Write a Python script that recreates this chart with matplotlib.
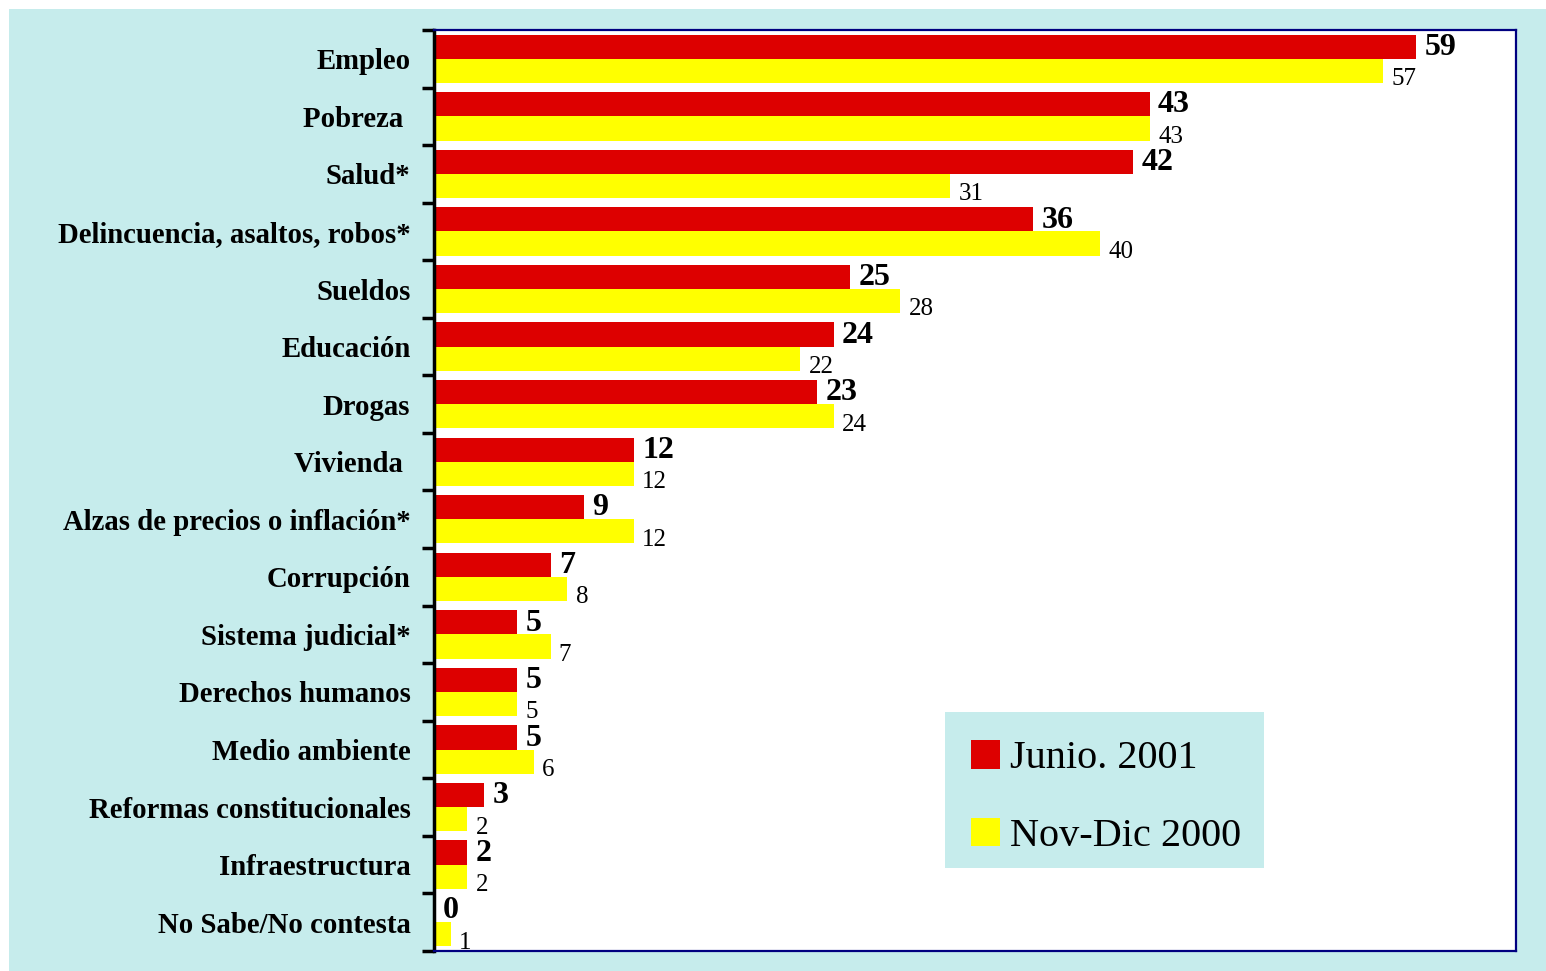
import numpy as np
import matplotlib
matplotlib.use('Agg')
import matplotlib.pyplot as plt
from matplotlib.patches import Rectangle

categories = ['Empleo', 'Pobreza ', 'Salud*', 'Delincuencia, asaltos, robos*', 'Sueldos',
              'Educación', 'Drogas', 'Vivienda ', 'Alzas de precios o inflación*', 'Corrupción',
              'Sistema judicial*', 'Derechos humanos', 'Medio ambiente',
              'Reformas constitucionales', 'Infraestructura', 'No Sabe/No contesta']
junio_2001 = [59, 43, 42, 36, 25, 24, 23, 12, 9, 7, 5, 5, 5, 3, 2, 0]
novdic_2000 = [57, 43, 31, 40, 28, 22, 24, 12, 12, 8, 7, 5, 6, 2, 2, 1]

red = '#DD0000'
yellow = '#FFFF00'
cyan = '#C6ECEC'
navy = '#000080'

matplotlib.rc('font', family='Liberation Serif')

W, H = 1546, 971
fig = plt.figure(figsize=(W / 100, H / 100), dpi=100, facecolor='white')
fig.patches.append(Rectangle((9 / W, 0), 1, 1 - 9 / H, transform=fig.transFigure,
                             facecolor=cyan, edgecolor='none', zorder=-10))
ax = fig.add_axes([434 / W, 1 - 951 / H, (1516 - 434) / W, (951 - 30) / H])
ax.set_facecolor('white')

y = np.arange(len(categories))
h = 0.42
ax.barh(y - h / 2, junio_2001, h, color=red, label='Junio. 2001')
ax.barh(y + h / 2, novdic_2000, h, color=yellow, label='Nov-Dic 2000')

for i in range(len(categories)):
    ax.annotate(str(junio_2001[i]), (junio_2001[i], y[i] - h / 2), xytext=(6, -0.5),
                textcoords='offset points', va='center', ha='left',
                fontsize=23, fontweight='bold')
    ax.annotate(str(novdic_2000[i]), (novdic_2000[i], y[i] + h / 2), xytext=(6, -6),
                textcoords='offset points', va='center', ha='left', fontsize=18)

ax.set_xlim(0, 65)
ax.set_ylim(len(categories) - 0.5, -0.5)
ax.set_xticks([])
ax.set_yticks(np.arange(len(categories) + 1) - 0.5)
ax.set_yticklabels([])
ax.set_yticks(y, minor=True)
ax.set_yticklabels(categories, minor=True, fontsize=20.7, fontweight='bold')
ax.tick_params(axis='y', which='major', length=9, width=2.5, direction='out', color='black')
ax.tick_params(axis='y', which='minor', length=0, pad=17)

for s in ['top', 'right', 'bottom']:
    ax.spines[s].set_color(navy)
    ax.spines[s].set_linewidth(1.6)
ax.spines['left'].set_color('black')
ax.spines['left'].set_linewidth(2.5)

# legend box drawn separately so the padding matches
box = Rectangle((945 / W, 1 - 868 / H), (1264 - 945) / W, (868 - 712) / H,
                transform=fig.transFigure, facecolor=cyan, edgecolor='none',
                zorder=4, clip_on=False)
ax.add_artist(box)
leg = ax.legend(loc='upper left', bbox_to_anchor=(971 / W, 1 - 740 / H),
                bbox_transform=fig.transFigure, borderaxespad=0, fontsize=29,
                frameon=False, handlelength=0.72, handleheight=0.72,
                handletextpad=0.25, labelspacing=1.0, borderpad=0)
leg.set_zorder(5)

fig.savefig('out.png', dpi=100, facecolor=fig.get_facecolor())
